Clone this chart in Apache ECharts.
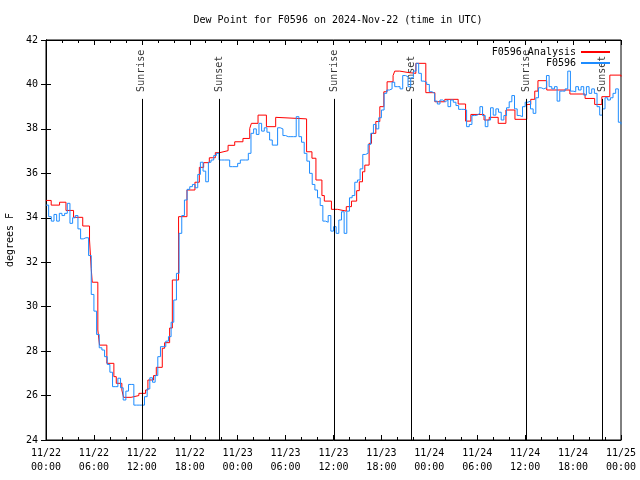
<!DOCTYPE html>
<html>
<head>
<meta charset="utf-8">
<script src="https://cdn.jsdelivr.net/npm/echarts@6/dist/echarts.min.js"></script>
<style>
html,body{margin:0;padding:0;background:#fff;}
#chart{width:640px;height:480px;}
</style>
</head>
<body>
<div id="chart"></div>
<script>
// ---- Data ----
// Analysis (red) : hour offsets from 2024-11-22 00:00 UTC where value changes, and values (deg F)
const analysisHours = [0,0.65,1.7,2.5,3.45,4.6,5.45,5.66,5.79,6.49,
  6.7,7.62,8.5,8.8,9.5,9.71,10.65,11.63,12.47,12.76,
  13.47,13.81,14.56,14.85,15.48,15.82,16.6,17.65,18.65,19.2,
  19.74,20.45,21.2,21.75,22.8,23.63,24.66,25.51,25.72,26.55,
  27.6,28.76,29.0,32.63,33.3,33.8,34.55,34.85,35.74,36.5,
  37.6,38.25,38.9,39.23,39.63,39.92,40.46,40.76,41.3,41.8,
  42.3,42.71,43.46,43.67,44.3,45.47,45.56,46.31,47.56,48.69,
  49.94,51.61,52.54,53.2,54.85,55.5,56.62,57.59,58.72,60.2,
  60.7,61.2,61.6,62.7,65.6,67.5,68.7,69.6,70.6,72];
const analysisValues = [34.78,34.57,34.70,34.33,34.02,33.63,33.0,31.73,31.1,28.95,
  28.27,27.45,26.85,26.55,26.25,25.92,26.0,26.1,26.25,26.7,
  26.9,27.27,28.13,28.38,29.04,31.2,34.05,35.25,35.6,36.27,
  36.48,36.7,36.93,37.02,37.26,37.42,37.57,38.02,38.25,38.62,
  38.1,38.52,38.45,36.97,36.68,35.7,35.0,34.75,34.38,34.3,
  34.5,34.75,35.22,35.62,36.07,36.37,37.35,37.8,38.33,39.0,
  39.67,40.12,40.4,40.6,40.53,40.6,40.5,40.95,39.63,39.22,
  39.33,39.12,38.35,38.65,38.4,38.52,38.25,38.85,38.43,39.1,
  39.33,39.7,40.17,39.75,39.57,39.37,39.1,39.45,40.42,40.35];

// Observations (blue): every 20 minutes from 2024-11-22 00:00 UTC
const obsStepHours = 1/3;
const obsValues = [
  34.57,34.05,33.85, 34.15,33.85,34.2, 34.1,34.2,34.65, 33.75,34.0,34.1,
  33.5,33.05,33.1, 33.1,32.3,30.55, 29.8,28.75,28.15, 28.05,27.75,27.4,
  27.05,26.4,26.4, 26.78,26.35,25.8, 26.2,26.5,26.5, 25.57,25.57,25.57,
  25.57,25.95,26.3, 26.8,26.6,26.9, 27.75,28.2,28.2, 28.45,28.65,29.3,
  30.3,31.5,33.3, 34.1,34.8,35.28, 35.4,35.5,35.35, 35.95,36.5,36.1,
  35.62,36.5,36.6, 36.8,36.9,36.6, 36.6,36.6,36.6, 36.3,36.3,36.3,
  36.45,36.6,36.6, 36.6,36.9,37.8, 38.0,37.75,38.25, 37.9,38.05,37.85,
  37.5,37.27,37.27, 38.05,38.0,37.7, 37.65,37.65,37.65, 37.65,38.55,37.65,
  37.4,36.9,36.55, 36.0,35.5,35.25, 34.9,34.55,33.85, 33.8,34.1,33.4,
  33.6,33.3,33.9, 34.27,33.3,34.3, 34.9,35.0,35.6, 35.7,36.2,36.85,
  36.9,37.3,37.8, 38.2,38.0,38.5, 38.85,39.6,39.75, 39.8,40.1,39.9,
  39.9,39.8,40.4, 40.35,39.9,40.3, 40.6,40.95,40.5, 40.15,40.1,40.0,
  39.67,39.6,39.25, 39.12,39.3,39.22, 39.3,39.0,39.3, 39.2,39.05,38.88,
  38.88,38.85,38.1, 38.2,38.6,38.62, 38.7,39.0,38.6, 38.1,38.4,38.95,
  38.62,38.9,38.75, 38.4,38.6,38.95, 39.22,39.5,38.9, 38.6,38.55,39.0,
  39.2,39.25,38.9, 38.7,39.4,39.85, 39.8,39.85,40.4, 39.9,39.8,39.9,
  39.25,39.7,39.7, 39.8,40.6,39.7, 39.67,39.9,39.75, 39.9,39.52,39.9,
  39.6,39.8,39.6, 39.0,38.62,38.9, 39.4,39.3,39.4, 39.6,39.8,38.3,
  38.2];

// Sun events (hours from 2024-11-22 00:00 UTC)
const sunEventHours = [12.0, 21.66, 36.07, 45.72, 60.1, 69.66];
const sunEventLabels = ['Sunrise','Sunset','Sunrise','Sunset','Sunrise','Sunset'];
const sunLineTop = 39.35;

// Axis ticks
const dayLabels = ['11/22','11/23','11/24','11/25'];
const yMin = 24, yMax = 42, yStep = 2;
const xMin = 0, xMax = 72, xStep = 6;

// ---- Build ----
const FONT = 'DejaVu Sans Mono';
const analysisData = analysisHours.map((h,i)=>[h, analysisValues[i]]);
const obsData = obsValues.map((v,i)=>[i*obsStepHours, v]);
const sunLabelData = sunEventHours.map((h,i)=>[h, sunLineTop, sunEventLabels[i]]);
const sunLines = sunEventHours.map(h=>[{coord:[h, yMin]},{coord:[h, sunLineTop]}]);

function pad(n){return (n<10?'0':'')+n;}
function xFmt(v){
  const d = Math.floor(v/24), hh = Math.round(v - d*24);
  return dayLabels[d] + '\n' + pad(hh) + ':00';
}
const black = {color:'#000', width:1};

const chart = echarts.init(document.getElementById('chart'));
chart.setOption({
  animation:false,
  backgroundColor:'#fff',
  title:{
    text:'Dew Point for F0596 on 2024-Nov-22 (time in UTC)',
    left:333, top:10, textAlign:'center',
    textStyle:{fontFamily:FONT, fontSize:10, fontWeight:'normal', color:'#000'}
  },
  legend:{
    orient:'vertical', right:30, top:44, align:'right', padding:[3,0,0,0],
    itemWidth:29, itemHeight:2, itemGap:1,
    textStyle:{fontFamily:FONT, fontSize:10, color:'#000'},
    data:[{name:'F0596 Analysis', icon:'rect'},{name:'F0596', icon:'rect'}]
  },
  grid:{left:46, right:19, top:40, bottom:40, show:true, borderColor:'#000', borderWidth:1,
        containLabel:false, outerBoundsMode:'none'},
  xAxis:[
    {type:'value', min:xMin, max:xMax, interval:xStep, position:'bottom',
     axisLine:{show:true, lineStyle:black}, axisTick:{show:true, inside:true, length:5, lineStyle:black},
     minorTick:{show:true, splitNumber:3, length:3, lineStyle:black},
     axisLabel:{formatter:xFmt, fontFamily:FONT, fontSize:10, color:'#000', margin:6, lineHeight:14},
     splitLine:{show:false}, minorSplitLine:{show:false}},
    {type:'value', min:xMin, max:xMax, interval:xStep, position:'top',
     axisLine:{show:true, lineStyle:black}, axisTick:{show:true, inside:true, length:5, lineStyle:black},
     minorTick:{show:true, splitNumber:3, length:3, lineStyle:black},
     axisLabel:{show:false}, splitLine:{show:false}}
  ],
  yAxis:[
    {type:'value', min:yMin, max:yMax, interval:yStep, position:'left',
     name:'degrees F', nameLocation:'middle', nameGap:31, nameRotate:90,
     nameTextStyle:{fontFamily:FONT, fontSize:10, color:'#000'},
     axisLine:{show:true, lineStyle:black}, axisTick:{show:true, inside:true, length:5, lineStyle:black},
     axisLabel:{fontFamily:FONT, fontSize:10, color:'#000', margin:8},
     splitLine:{show:false}},
    {type:'value', min:yMin, max:yMax, interval:yStep, position:'right',
     axisLine:{show:true, lineStyle:black}, axisTick:{show:true, inside:true, length:5, lineStyle:black},
     axisLabel:{show:false}, splitLine:{show:false}}
  ],
  series:[
    {name:'sun', type:'scatter', symbolSize:0, z:1, silent:true,
     data:sunLabelData,
     label:{show:true, position:'top', distance:7, rotate:90, align:'left', verticalAlign:'middle',
       formatter:p=>p.data[2], fontFamily:FONT, fontSize:10, color:'#000'},
     markLine:{silent:true, symbol:['none','none'], label:{show:false},
       lineStyle:{color:'#000', width:1, type:'solid'}, data:sunLines}},
    {name:'F0596 Analysis', type:'line', step:'end', showSymbol:false, symbol:'none', z:2,
     data:analysisData, lineStyle:{color:'#ff0000', width:1}, itemStyle:{color:'#ff0000'}},
    {name:'F0596', type:'line', step:'end', showSymbol:false, symbol:'none', z:3,
     data:obsData, lineStyle:{color:'#1e8cff', width:1}, itemStyle:{color:'#1e8cff'}}
  ]
});
</script>
</body>
</html>
